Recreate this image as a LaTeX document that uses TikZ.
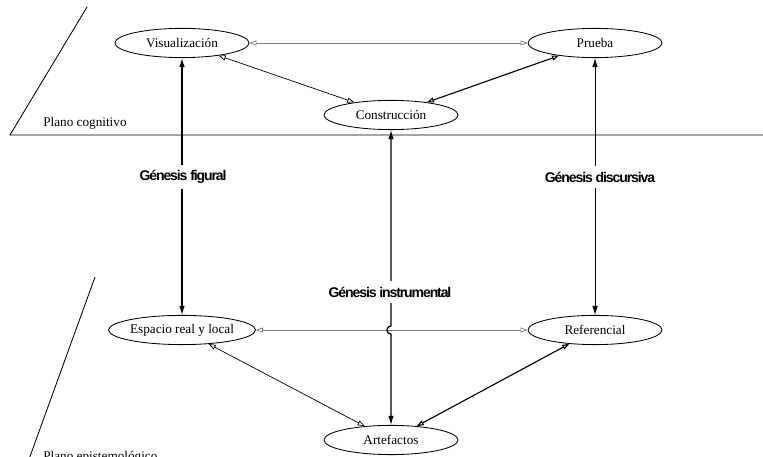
\documentclass[tikz,border=0pt]{standalone}
\usepackage{fontspec}
\setmainfont{Liberation Serif}
\newfontfamily\genfont[LetterSpace=-8]{Liberation Sans}
\usetikzlibrary{arrows.meta,shapes.geometric}
\definecolor{lineg}{RGB}{125,125,125}

\begin{document}
\begin{tikzpicture}[x=0.025cm,y=-0.025cm,
  plano/.style={ellipse,draw,line width=0.6pt,minimum width=3.35cm,minimum height=0.73cm,inner sep=0pt,font=\fontsize{9.4}{11}\selectfont},
  flecha/.style={{Triangle[open,length=5pt,width=3.6pt]}-{Triangle[open,length=5pt,width=3.6pt]},line width=0.5pt},
  genesis/.style={{Latex[length=6.5pt,width=4pt]}-{Latex[length=6.5pt,width=4pt]},line width=0.9pt},
  gentxt/.style={fill=white,inner sep=4pt,font=\genfont\bfseries\fontsize{10}{12}\selectfont},
  rotulo/.style={inner sep=0pt,font=\fontsize{9.4}{11}\selectfont}]
  \useasboundingbox (0,0) rectangle (763,457);
  % planos
  \draw[line width=0.6pt] (87,7) -- (10,135) -- (763,135);
  \node[rotulo,anchor=base west] (cog) at (43,127) {Plano cognitivo};
  \draw[line width=0.6pt] (95,277) -- (28,462);
  \node[rotulo,anchor=north west] (epi) at (43,451) {Plano epistemológico};
  % nodos
  \node[plano] (vis) at (182,43) {Visualización};
  \node[plano] (pru) at (595,43) {Prueba};
  \node[plano] (con) at (391,115) {Construcción};
  \node[plano] (esp) at (182,330) {Espacio real y local};
  \node[plano] (ref) at (595,330) {Referencial};
  \node[plano] (art) at (391,440) {Artefactos};
  % relaciones
  \draw[flecha,lineg] (vis) -- (pru);
  \draw[flecha] (vis) -- (con);
  \draw[flecha,line width=0.8pt] (pru) -- (con);
  \draw[flecha,lineg] (esp) -- (ref);
  \draw[flecha] (esp) -- (art);
  \draw[flecha,line width=0.8pt] (ref) -- (art);
  % genesis
  \draw[genesis] (vis) -- (esp);
  \draw[genesis,line width=0.6pt] (pru) -- (ref);
  \draw[genesis] (con) -- (391,326) arc[start angle=90,end angle=270,radius=2.9pt] -- (art);
  \node[gentxt] (gfig) at (183,177) {Génesis figural};
  \node[gentxt] (gdis) at (600,177) {Génesis discursiva};
  \node[gentxt] (gins) at (390,292) {Génesis instrumental};
\end{tikzpicture}
\end{document}
